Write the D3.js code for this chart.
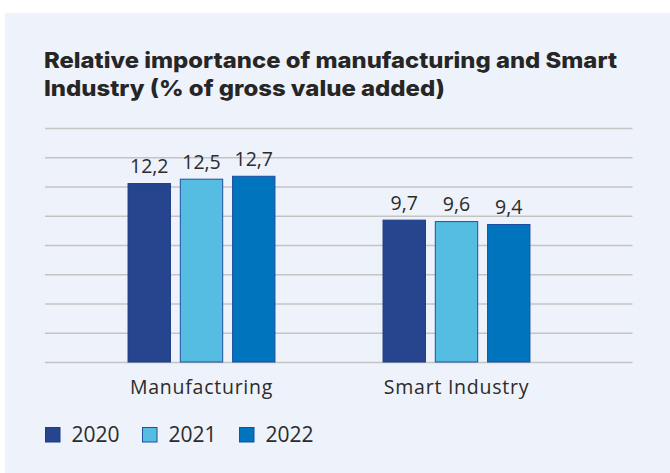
<!DOCTYPE html>
<html>
<head>
<meta charset="utf-8">
<script src="https://cdn.jsdelivr.net/npm/d3@7"></script>
<style>
  html, body { margin: 0; padding: 0; background: #ffffff; }
  svg { display: block; }
</style>
</head>
<body>
<svg id="chart" width="670" height="473"></svg>
<script>
const titleLines = ["Relative importance of manufacturing and Smart", "Industry (% of gross value added)"];
const titleWidths = [573, 401];
const categories = ["Manufacturing", "Smart Industry"];
const years = ["2020", "2021", "2022"];
const values2020 = [12.2, 9.7];
const values2021 = [12.5, 9.6];
const values2022 = [12.7, 9.4];
const yTicks = [0, 2, 4, 6, 8, 10, 12, 14, 16];
const colors = ["#26458e", "#55bde2", "#0074bd"];
const strokeColors = ["#1c3a86", "#1f4fa0", "#1d4d9e"];

const seriesValues = [values2020, values2021, values2022];
const data = categories.map((c, i) => ({
  category: c,
  bars: years.map((y, j) => ({ year: y, value: seriesValues[j][i], idx: j }))
}));

const svg = d3.select("#chart");
const W = 670, H = 473;

svg.append("rect").attr("x", 5).attr("y", 13).attr("width", W - 5).attr("height", H - 13)
  .attr("fill", "#eef2fa");

svg.append("g").selectAll("text").data(titleLines).join("text")
  .attr("x", 44).attr("y", (d, i) => 67.5 + i * 28.5)
  .attr("font-family", "Inter, 'DejaVu Sans', sans-serif")
  .attr("font-weight", 800)
  .attr("font-size", 22)
  .attr("fill", "#262626")
  .attr("textLength", (d, i) => titleWidths[i])
  .attr("lengthAdjust", "spacingAndGlyphs")
  .text(d => d);

const y = d3.scaleLinear().domain([0, 16]).range([362, 128]);
const x0 = d3.scaleBand().domain(categories).range([74, 584]).paddingInner(0.42).paddingOuter(0.21);
const x1 = d3.scaleBand().domain(years).range([0, x0.bandwidth()]).paddingInner(0.17);

// gridlines
const gridAxis = d3.axisLeft(y).tickValues(yTicks).tickSize(-(632.5 - 45)).tickFormat("");
const gg = svg.append("g").attr("transform", "translate(45,0)").call(gridAxis);
gg.select(".domain").remove();
gg.selectAll(".tick line").attr("stroke", "#c4c4c4").attr("stroke-width", 1.4);

const fontBody = "'Open Sans', 'Noto Sans', sans-serif";

const groups = svg.append("g").selectAll("g").data(data).join("g")
  .attr("transform", d => `translate(${x0(d.category)},0)`);

groups.selectAll("rect").data(d => d.bars).join("rect")
  .attr("x", d => x1(d.year) + 0.5)
  .attr("width", x1.bandwidth() - 1)
  .attr("y", d => y(d.value))
  .attr("height", d => y(0) - y(d.value))
  .attr("fill", d => colors[d.idx])
  .attr("stroke", d => strokeColors[d.idx])
  .attr("stroke-width", 1);

groups.selectAll("text").data(d => d.bars).join("text")
  .attr("x", d => x1(d.year) + x1.bandwidth() / 2)
  .attr("y", d => y(d.value) - 10.5)
  .attr("text-anchor", "middle")
  .attr("font-family", fontBody)
  .attr("font-size", 19.5)
  .attr("fill", "#2b2b2b")
  .text(d => d3.format(".1f")(d.value).replace(".", ","));

// category axis
const xAxis = d3.axisBottom(x0).tickSize(0).tickPadding(18);
const xg = svg.append("g").attr("transform", "translate(0,362)").call(xAxis);
xg.select(".domain").remove();
xg.selectAll("text")
  .attr("font-family", fontBody)
  .attr("font-size", 19.5)
  .attr("letter-spacing", 0.75)
  .attr("fill", "#2b2b2b");

// legend
const legendX = [45, 142, 239];
const lg = svg.append("g").selectAll("g").data(years).join("g")
  .attr("transform", (d, i) => `translate(${legendX[i]},427)`);
lg.append("rect").attr("x", 0.5).attr("y", 0.5).attr("width", 14.5).attr("height", 14.5)
  .attr("fill", (d, i) => colors[i]).attr("stroke", (d, i) => strokeColors[i]).attr("stroke-width", 1);
lg.append("text").attr("x", 26.5).attr("y", 15)
  .attr("font-family", fontBody).attr("font-size", 21).attr("fill", "#2b2b2b")
  .text(d => d);
</script>
</body>
</html>
